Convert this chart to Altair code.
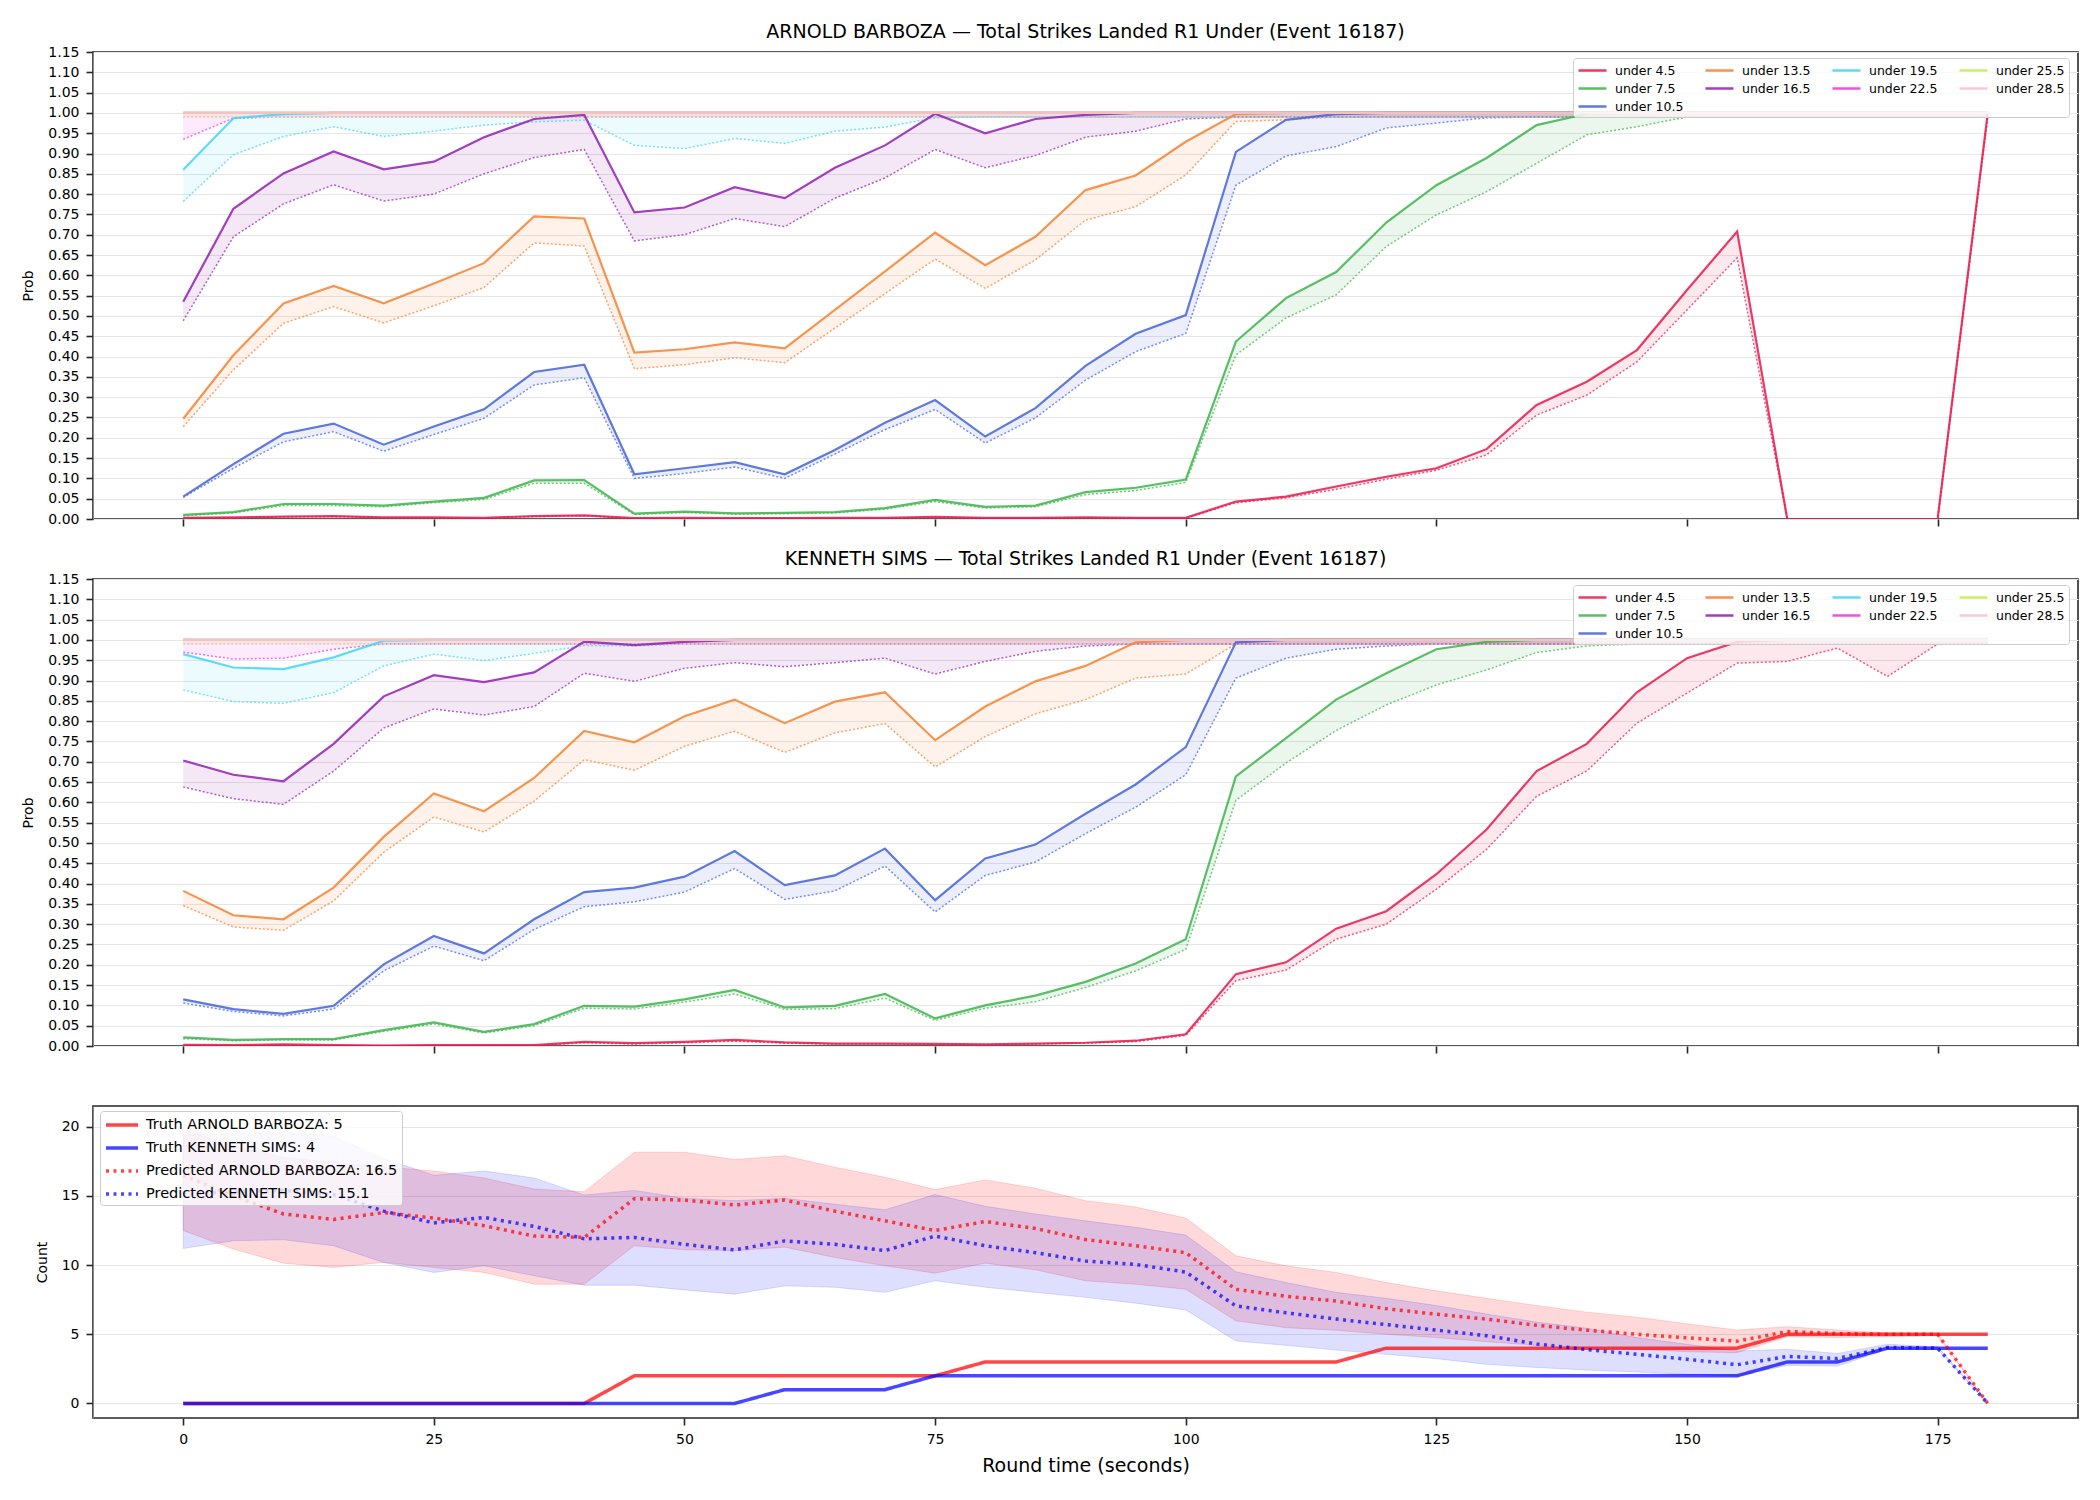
import altair as alt
import pandas as pd

T = list(range(0, 181, 5))  # round time, seconds

THR = ["under 4.5", "under 7.5", "under 10.5", "under 13.5", "under 16.5",
       "under 19.5", "under 22.5", "under 25.5", "under 28.5"]
COLORS = ["#e6194B", "#3cb44b", "#4363d8", "#f58231", "#911eb4",
          "#42d4f4", "#f032e6", "#bfef45", "#fabed4"]
# order fed to the legend so that its 4-column grid reads like the original
LEGEND_ORDER = ["under 4.5", "under 25.5", "under 22.5", "under 13.5",
                "under 7.5", "under 28.5", "under 19.5", "under 16.5", "under 10.5"]

# ---------------- ARNOLD BARBOZA (solid = upper, dotted = lower) ----------------
A_SOLID = {
    "under 4.5": [0.003, 0.004, 0.006, 0.007, 0.004, 0.004, 0.003, 0.007, 0.009, 0.002, 0.003, 0.002,
                  0.002, 0.003, 0.003, 0.005, 0.003, 0.003, 0.004, 0.003, 0.003, 0.043, 0.055, 0.080,
                  0.104, 0.125, 0.172, 0.281, 0.338, 0.416, 0.564, 0.708, 0.0, 0.0, 0.0, 0.0, 1.0],
    "under 7.5": [0.010, 0.017, 0.037, 0.037, 0.033, 0.043, 0.052, 0.095, 0.096, 0.013, 0.018, 0.014,
                  0.015, 0.017, 0.027, 0.047, 0.030, 0.033, 0.066, 0.077, 0.097, 0.437, 0.544, 0.608,
                  0.730, 0.822, 0.889, 0.970, 0.998] + [1.0] * 8,
    "under 10.5": [0.055, 0.135, 0.210, 0.235, 0.183, 0.228, 0.270, 0.362, 0.380, 0.110, 0.125, 0.140,
                   0.110, 0.170, 0.237, 0.293, 0.203, 0.273, 0.377, 0.456, 0.502, 0.904, 0.983, 0.997]
                  + [1.0] * 13,
    "under 13.5": [0.247, 0.403, 0.531, 0.574, 0.531, 0.580, 0.630, 0.745, 0.740, 0.410, 0.418, 0.435,
                   0.420, 0.515, 0.610, 0.705, 0.625, 0.695, 0.810, 0.846, 0.929, 0.997] + [1.0] * 15,
    "under 16.5": [0.535, 0.764, 0.851, 0.905, 0.861, 0.880, 0.940, 0.985, 0.995, 0.755, 0.767, 0.817,
                   0.790, 0.865, 0.920, 0.998, 0.950, 0.985, 0.995] + [1.0] * 18,
    "under 19.5": [0.860, 0.987, 0.997] + [1.0] * 34,
    "under 22.5": [1.0] * 37,
    "under 25.5": [1.0] * 37,
    "under 28.5": [1.0] * 37,
}
A_DOT = {
    "under 4.5": [0.002, 0.003, 0.005, 0.006, 0.003, 0.003, 0.002, 0.006, 0.008, 0.001, 0.002, 0.001,
                  0.001, 0.002, 0.002, 0.004, 0.002, 0.002, 0.003, 0.002, 0.002, 0.040, 0.052, 0.073,
                  0.098, 0.120, 0.158, 0.256, 0.305, 0.387, 0.515, 0.643, 0.0, 0.0, 0.0, 0.0, 0.99],
    "under 7.5": [0.008, 0.015, 0.033, 0.033, 0.030, 0.040, 0.048, 0.088, 0.088, 0.011, 0.016, 0.012,
                  0.013, 0.015, 0.024, 0.043, 0.027, 0.030, 0.060, 0.070, 0.090, 0.404, 0.495, 0.552,
                  0.671, 0.749, 0.806, 0.876, 0.946, 0.966] + [0.99] * 7,
    "under 10.5": [0.053, 0.125, 0.190, 0.215, 0.167, 0.208, 0.248, 0.330, 0.348, 0.100, 0.112, 0.128,
                   0.100, 0.160, 0.220, 0.270, 0.187, 0.249, 0.342, 0.412, 0.457, 0.822, 0.894, 0.917,
                   0.963, 0.975, 0.988] + [0.99] * 10,
    "under 13.5": [0.227, 0.367, 0.482, 0.523, 0.483, 0.525, 0.570, 0.680, 0.672, 0.370, 0.380, 0.397,
                   0.385, 0.470, 0.555, 0.640, 0.568, 0.638, 0.736, 0.769, 0.847, 0.979, 0.983]
                  + [0.99] * 14,
    "under 16.5": [0.488, 0.695, 0.776, 0.823, 0.783, 0.800, 0.850, 0.890, 0.910, 0.685, 0.700, 0.740,
                   0.720, 0.790, 0.840, 0.910, 0.865, 0.895, 0.940, 0.955, 0.985] + [0.99] * 16,
    "under 19.5": [0.782, 0.897, 0.942, 0.966, 0.942, 0.955, 0.970, 0.978, 0.982, 0.920, 0.912, 0.937,
                   0.925, 0.955, 0.965, 0.988] + [0.99] * 21,
    "under 22.5": [0.935, 0.987] + [0.99] * 35,
    "under 25.5": [0.99] * 37,
    "under 28.5": [0.99] * 37,
}

# ---------------- KENNETH SIMS ----------------
K_SOLID = {
    "under 4.5": [0.003, 0.002, 0.004, 0.002, 0.001, 0.002, 0.002, 0.002, 0.010, 0.007, 0.010, 0.015,
                  0.009, 0.006, 0.006, 0.005, 0.004, 0.006, 0.008, 0.013, 0.029, 0.177, 0.206, 0.289,
                  0.332, 0.423, 0.533, 0.677, 0.744, 0.871, 0.955, 0.995] + [1.0] * 5,
    "under 7.5": [0.021, 0.015, 0.017, 0.017, 0.039, 0.058, 0.035, 0.054, 0.099, 0.097, 0.115, 0.138,
                  0.095, 0.099, 0.128, 0.068, 0.100, 0.124, 0.158, 0.203, 0.263, 0.664, 0.758, 0.853,
                  0.918, 0.977, 0.995] + [1.0] * 10,
    "under 10.5": [0.115, 0.091, 0.079, 0.099, 0.201, 0.271, 0.228, 0.312, 0.379, 0.390, 0.417, 0.480,
                   0.396, 0.420, 0.486, 0.359, 0.462, 0.496, 0.572, 0.644, 0.736, 0.994] + [1.0] * 15,
    "under 13.5": [0.382, 0.322, 0.312, 0.390, 0.515, 0.622, 0.578, 0.660, 0.776, 0.748, 0.812, 0.853,
                   0.795, 0.848, 0.871, 0.753, 0.836, 0.898, 0.936, 0.994] + [1.0] * 17,
    "under 16.5": [0.703, 0.668, 0.652, 0.744, 0.861, 0.913, 0.896, 0.920, 0.996, 0.987, 0.995]
                  + [1.0] * 26,
    "under 19.5": [0.965, 0.932, 0.928, 0.957, 0.998] + [1.0] * 32,
    "under 22.5": [1.0] * 37,
    "under 25.5": [1.0] * 37,
    "under 28.5": [1.0] * 37,
}
K_DOT = {
    "under 4.5": [0.002, 0.001, 0.003, 0.001, 0.001, 0.001, 0.001, 0.001, 0.008, 0.005, 0.008, 0.012,
                  0.007, 0.005, 0.005, 0.004, 0.003, 0.005, 0.007, 0.011, 0.026, 0.161, 0.187, 0.263,
                  0.300, 0.386, 0.484, 0.615, 0.677, 0.795, 0.869, 0.943, 0.947, 0.980, 0.910, 0.990, 0.990],
    "under 7.5": [0.018, 0.013, 0.015, 0.015, 0.036, 0.054, 0.032, 0.050, 0.093, 0.091, 0.108, 0.128,
                  0.090, 0.092, 0.118, 0.063, 0.093, 0.109, 0.144, 0.185, 0.238, 0.605, 0.697, 0.777,
                  0.840, 0.889, 0.926, 0.969, 0.985] + [0.99] * 8,
    "under 10.5": [0.106, 0.085, 0.074, 0.091, 0.185, 0.246, 0.210, 0.287, 0.343, 0.355, 0.379, 0.437,
                   0.361, 0.382, 0.443, 0.330, 0.420, 0.453, 0.523, 0.588, 0.668, 0.906, 0.955, 0.977,
                   0.985] + [0.99] * 12,
    "under 13.5": [0.346, 0.293, 0.285, 0.357, 0.477, 0.564, 0.527, 0.603, 0.705, 0.679, 0.738, 0.775,
                   0.723, 0.771, 0.794, 0.687, 0.762, 0.818, 0.853, 0.906, 0.916] + [0.99] * 16,
    "under 16.5": [0.638, 0.609, 0.595, 0.677, 0.783, 0.830, 0.815, 0.836, 0.918, 0.898, 0.930, 0.944,
                   0.934, 0.944, 0.955, 0.916, 0.947, 0.972, 0.985] + [0.99] * 18,
    "under 19.5": [0.877, 0.848, 0.844, 0.870, 0.936, 0.965, 0.949, 0.967, 0.986, 0.985] + [0.99] * 27,
    "under 22.5": [0.970, 0.953, 0.955, 0.977] + [0.99] * 33,
    "under 25.5": [0.99] * 37,
    "under 28.5": [0.99] * 37,
}

# ---------------- Count panel ----------------
NAMES = ["Truth ARNOLD BARBOZA: 5", "Truth KENNETH SIMS: 4",
         "Predicted ARNOLD BARBOZA: 16.5", "Predicted KENNETH SIMS: 15.1"]
TRUTH_A = [0] * 9 + [2] * 7 + [3] * 8 + [4] * 8 + [5] * 5
TRUTH_K = [0] * 12 + [1] * 3 + [2] * 17 + [3] * 2 + [4] * 3
PRED_A = [16.5, 15.0, 13.7, 13.3, 13.8, 13.4, 12.85, 12.1, 12.0, 14.8, 14.7, 14.35, 14.7, 13.9, 13.2,
          12.5, 13.15, 12.65, 11.85, 11.4, 10.9, 8.25, 7.75, 7.4, 6.85, 6.45, 6.1, 5.65, 5.3, 5.0,
          4.75, 4.5, 5.2, 5.05, 5.0, 5.0, 0.0]
PRED_K = [15.1, 15.3, 15.4, 15.1, 13.9, 13.05, 13.45, 12.8, 11.9, 12.0, 11.5, 11.1, 11.75, 11.5, 11.05,
          12.1, 11.4, 10.9, 10.3, 10.05, 9.5, 7.05, 6.55, 6.1, 5.7, 5.3, 4.9, 4.3, 3.9, 3.55, 3.2, 2.8,
          3.4, 3.25, 4.05, 4.0, 0.0]
BAND_A_HI = [19.8, 18.6, 17.8, 17.4, 17.1, 16.8, 16.3, 15.5, 15.3, 18.16, 18.16, 17.63, 17.9, 17.08,
             16.35, 15.46, 16.16, 15.56, 14.66, 14.2, 13.4, 10.67, 9.95, 9.47, 8.74, 8.14, 7.6, 7.08,
             6.6, 6.24, 5.76, 5.31, 5.55, 5.31, 5.1, 5.05, 0.0]
BAND_A_LO = [12.5, 11.16, 10.14, 9.83, 10.2, 9.83, 9.47, 8.62, 8.62, 11.4, 11.11, 11.04, 11.3, 10.55,
             9.95, 9.42, 10.14, 9.66, 8.87, 8.62, 8.26, 5.97, 5.48, 5.29, 5.0, 4.76, 4.47, 4.2, 4.03,
             3.91, 3.74, 3.67, 4.83, 4.76, 4.83, 4.9, 0.0]
BAND_K_HI = [19.4, 19.5, 19.6, 19.3, 17.7, 16.5, 16.8, 16.3, 15.07, 15.4, 14.83, 14.66, 14.83, 14.4,
             14.0, 15.1, 14.25, 13.7, 13.2, 12.73, 12.17, 9.52, 8.74, 8.03, 7.6, 7.08, 6.47, 5.88,
             5.44, 4.76, 4.28, 3.8, 3.91, 3.62, 4.28, 4.1, 0.0]
BAND_K_LO = [11.2, 11.76, 11.83, 11.4, 10.19, 9.47, 9.95, 9.23, 8.55, 8.55, 8.21, 7.9, 8.5, 8.4, 8.03,
             8.87, 8.4, 8.03, 7.67, 7.25, 6.76, 4.52, 4.2, 3.86, 3.55, 3.24, 2.83, 2.6, 2.42, 2.27,
             2.1, 1.98, 2.75, 2.7, 3.91, 3.91, 0.0]

X_TICKS = [0, 25, 50, 75, 100, 125, 150, 175]
Y_TICKS = [0.0, 0.05, 0.1, 0.15, 0.2, 0.25, 0.3, 0.35, 0.4, 0.45, 0.5, 0.55, 0.6, 0.65, 0.7, 0.75,
           0.8, 0.85, 0.9, 0.95, 1.0, 1.05, 1.1, 1.15]
FONT = "DejaVu Sans"
W, H1, H3 = 1985, 467, 312
LINE_SYMBOL = "M-1,0H3"  # long horizontal stroke inside a small symbol box

color_of = dict(zip(THR, COLORS))
leg_colors = [color_of[k] for k in LEGEND_ORDER]
# fill/stroke scales get an extra unused entry so their legends never merge with the colour legend
aux_domain = LEGEND_ORDER + ["(none)"]
aux_range = leg_colors + ["#000000"]


def prob_df(solid, dot):
    rows = []
    for thr in THR:
        for t, s, d in zip(T, solid[thr], dot[thr]):
            rows.append({"t": t, "thr": thr, "solid": s, "dot": d})
    return pd.DataFrame(rows)


xscale = alt.Scale(domain=[-9, 189], nice=False, zero=False)


def prob_panel(df, title):
    x = alt.X("t:Q", scale=xscale,
              axis=alt.Axis(values=X_TICKS, labels=False, title=None, grid=False, domain=False))
    yscale = alt.Scale(domain=[0, 1.15], nice=False)
    yaxis = alt.Axis(values=Y_TICKS, format=".2f", grid=True, labelOverlap=False, title="Prob")
    base = alt.Chart(df)
    area = base.mark_area(fillOpacity=0.1, clip=True).encode(
        x=x,
        y=alt.Y("dot:Q", scale=yscale, axis=yaxis),
        y2="solid:Q",
        fill=alt.Fill("thr:N", scale=alt.Scale(domain=aux_domain, range=aux_range), legend=None),
    )
    dotted = base.mark_line(strokeDash=[2, 2], strokeWidth=1.5, opacity=0.7, clip=True).encode(
        x=x, y=alt.Y("dot:Q", scale=yscale, axis=yaxis),
        stroke=alt.Stroke("thr:N", scale=alt.Scale(domain=aux_domain, range=aux_range), legend=None),
    )
    solid = base.mark_line(strokeWidth=2.2, opacity=0.85, clip=True).encode(
        x=x, y=alt.Y("solid:Q", scale=yscale, axis=yaxis),
        color=alt.Color("thr:N", scale=alt.Scale(domain=LEGEND_ORDER, range=leg_colors),
                        legend=alt.Legend(title=None, orient="none", legendX=1480, legendY=6,
                                          columns=4, symbolType=LINE_SYMBOL, symbolSize=196,
                                          symbolStrokeWidth=2.5, symbolOpacity=0.85,
                                          labelFontSize=12.5, labelFont=FONT, labelColor="#000000",
                                          labelOffset=21, columnPadding=16, rowPadding=3,
                                          padding=4, fillColor="rgba(255,255,255,0.8)",
                                          strokeColor="#cccccc", cornerRadius=3, gridAlign="all")),
    )
    return alt.layer(area, dotted, solid).properties(
        width=W, height=H1, title=alt.Title(title))


top = prob_panel(prob_df(A_SOLID, A_DOT), "ARNOLD BARBOZA — Total Strikes Landed R1 Under (Event 16187)")
mid = prob_panel(prob_df(K_SOLID, K_DOT), "KENNETH SIMS — Total Strikes Landed R1 Under (Event 16187)")

# count panel data
line_rows = []
for name, vals in zip(NAMES, [TRUTH_A, TRUTH_K, PRED_A, PRED_K]):
    for t, v in zip(T, vals):
        line_rows.append({"t": t, "series": name, "val": v})
lines_df = pd.DataFrame(line_rows)
band_rows = []
for f, lo, hi in [("A", BAND_A_LO, BAND_A_HI), ("K", BAND_K_LO, BAND_K_HI)]:
    for t, a, b in zip(T, lo, hi):
        band_rows.append({"t": t, "fighter": f, "lo": a, "hi": b})
band_df = pd.DataFrame(band_rows)

xb = alt.X("t:Q", scale=xscale,
           axis=alt.Axis(values=X_TICKS, title="Round time (seconds)", grid=False, domain=False,
                         titleFontSize=19, labelPadding=7, titlePadding=10))
yscale_b = alt.Scale(domain=[-1.05, 21.5], nice=False, zero=False)
yaxis_b = alt.Axis(values=[0, 5, 10, 15, 20], grid=True, title="Count")

band_a = alt.Chart(band_df).transform_filter(alt.datum.fighter == "A").mark_area(
    fill="#ff0000", fillOpacity=0.15, stroke="#ff0000", strokeOpacity=0.15, strokeWidth=1, clip=True
).encode(x=xb, y=alt.Y("lo:Q", scale=yscale_b, axis=yaxis_b), y2="hi:Q")
band_k = alt.Chart(band_df).transform_filter(alt.datum.fighter == "K").mark_area(
    fill="#0000ff", fillOpacity=0.13, stroke="#0000ff", strokeOpacity=0.13, strokeWidth=1, clip=True
).encode(x=xb, y=alt.Y("lo:Q", scale=yscale_b, axis=yaxis_b), y2="hi:Q")

leg_b = alt.Legend(title=None, orient="none", legendX=7, legendY=5, symbolType=LINE_SYMBOL,
                   symbolSize=256, symbolStrokeWidth=3.5, symbolOpacity=0.72,
                   labelFontSize=14.5, labelFont=FONT, labelColor="#000000", labelOffset=22,
                   rowPadding=6, padding=4, fillColor="rgba(255,255,255,0.8)",
                   strokeColor="#cccccc", cornerRadius=3, labelLimit=400)
count_lines = alt.Chart(lines_df).mark_line(clip=True).encode(
    x=xb, y=alt.Y("val:Q", scale=yscale_b, axis=yaxis_b),
    color=alt.Color("series:N", scale=alt.Scale(domain=NAMES, range=["#ff0000", "#0000ff", "#ff0000", "#0000ff"]),
                    legend=leg_b, sort=NAMES),
    strokeDash=alt.StrokeDash("series:N", scale=alt.Scale(domain=NAMES, range=[[1, 0], [1, 0], [3, 4.5], [3, 4.5]]),
                              legend=leg_b, sort=NAMES),
    strokeWidth=alt.StrokeWidth("series:N", scale=alt.Scale(domain=NAMES, range=[3.5, 3.5, 3, 3]), legend=None),
    opacity=alt.Opacity("series:N", scale=alt.Scale(domain=NAMES, range=[0.72, 0.72, 0.62, 0.62]), legend=None),
)
bottom = alt.layer(band_a, band_k, count_lines).properties(width=W, height=H3)

chart = alt.vconcat(top, mid, bottom, spacing=60, bounds="flush").resolve_scale(
    color="independent", fill="independent", stroke="independent",
    strokeDash="independent", strokeWidth="independent", opacity="independent"
).properties(
    padding={"left": 21, "top": 22, "right": 0, "bottom": 10}, background="white"
).configure_axis(
    labelFont=FONT, titleFont=FONT, labelFontSize=14, titleFontSize=14, titleFontWeight="normal",
    labelColor="#000000", titleColor="#000000", tickColor="#262626", tickWidth=1.6, tickSize=7,
    labelPadding=7, titlePadding=12, gridColor="#e6e6e6", gridWidth=1, labelOverlap=False
).configure_view(
    stroke="#262626", strokeWidth=1.6
).configure_title(
    font=FONT, fontSize=19, fontWeight="normal", color="#000000", offset=3
)

chart.save("out.html", embed_options={"renderer": "svg", "actions": False})
